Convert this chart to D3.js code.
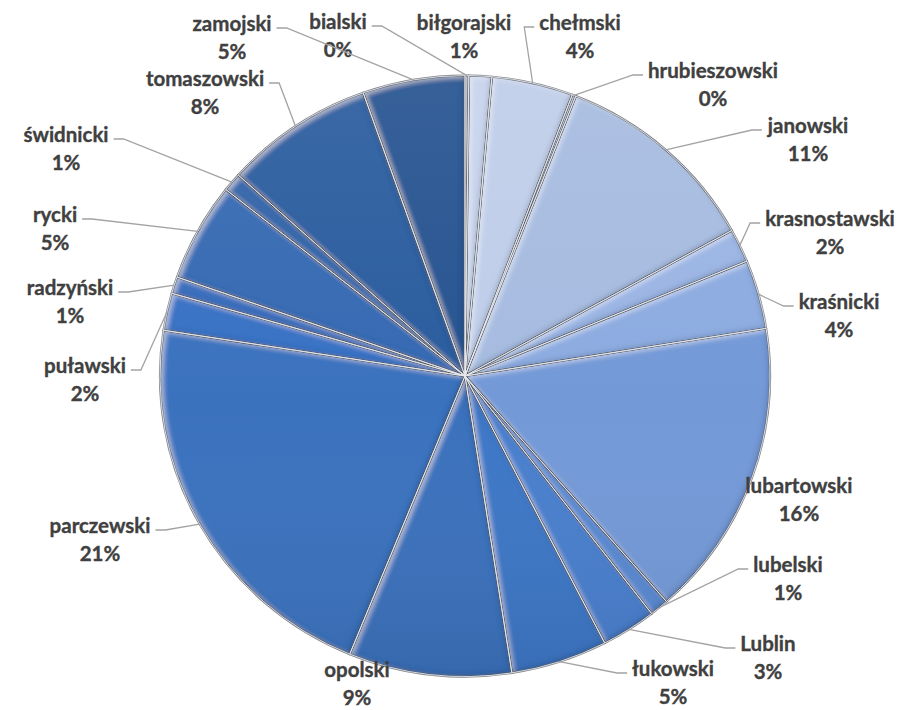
<!DOCTYPE html>
<html>
<head>
<meta charset="utf-8">
<script src="https://cdn.jsdelivr.net/npm/d3@7/dist/d3.min.js"></script>
<style>
  body { margin: 0; background: #fff; }
  .lbl { font-family: Lato, "Noto Sans", sans-serif; font-weight: bold; font-size: 20.5px;
         fill: #404040; stroke: #404040; stroke-width: 0.35px; }
</style>
</head>
<body>
<svg id="chart" width="909" height="710"></svg>
<script>
// powiaty (counties), in the order Excel draws them clockwise from 12 o'clock
const counties = ["bialski", "biłgorajski", "chełmski", "hrubieszowski", "janowski",
  "krasnostawski", "kraśnicki", "lubartowski", "lubelski", "Lublin", "łukowski",
  "opolski", "parczewski", "puławski", "radzyński", "rycki", "świdnicki",
  "tomaszowski", "zamojski"];

// share of each county
const values = [0.2, 1.2, 4.3, 0.2, 11.0, 1.8, 3.7, 16.0, 1.0, 2.9, 5.1,
  8.6, 21.2, 2.0, 0.9, 5.3, 1.0, 7.9, 5.4];

// monochrome blue palette, light to dark
const colors = ["#cbd7ee", "#c6d3ec", "#bfcde9", "#b6c7e7", "#a6bbe0",
  "#9ab4e3", "#8cabe0", "#7399d7", "#5a89d2", "#4a7fcd", "#3d77c6",
  "#3a71bc", "#3b72be", "#3971c4", "#376cbb", "#3469b2", "#3164a8",
  "#2c5c9e", "#285290"];

// label layout: offset of the name baseline from the pie centre, and whether a leader is drawn
const labelOffset = [[-127, -347], [-1, -346], [115, -346], [248, -298], [343, -243],
  [365, -150], [374, -67], [334, 117], [323, 196], [303, 275], [208, 300],
  [-108, 301], [-365, 157], [-380, -3], [-395, -81], [-410, -154], [-399, -234],
  [-260, -290], [-233, -345]];
const hasLeader = [1, 0, 1, 1, 1, 1, 1, 0, 1, 1, 1, 0, 1, 1, 1, 1, 1, 1, 1];

const cx = 465, cy = 376, R = 305, ky = 0.985;

const svg = d3.select("#chart");
const defs = svg.append("defs");

// bevel look: light inner edge top-left, dark inner edge bottom-right
const f = defs.append("filter").attr("id", "bevel")
  .attr("x", "-10%").attr("y", "-10%").attr("width", "120%").attr("height", "120%");
f.append("feGaussianBlur").attr("in", "SourceAlpha").attr("stdDeviation", 2.5).attr("result", "b");
f.append("feOffset").attr("in", "b").attr("dx", 2.5).attr("dy", 2.5).attr("result", "ob1");
f.append("feComposite").attr("in", "SourceAlpha").attr("in2", "ob1").attr("operator", "out").attr("result", "hi");
f.append("feFlood").attr("flood-color", "#ffffff").attr("flood-opacity", 0.45);
f.append("feComposite").attr("in2", "hi").attr("operator", "in").attr("result", "hiC");
f.append("feOffset").attr("in", "b").attr("dx", -2.5).attr("dy", -2.5).attr("result", "ob2");
f.append("feComposite").attr("in", "SourceAlpha").attr("in2", "ob2").attr("operator", "out").attr("result", "sh");
f.append("feFlood").attr("flood-color", "#0a1a33").attr("flood-opacity", 0.35);
f.append("feComposite").attr("in2", "sh").attr("operator", "in").attr("result", "shC");
const m = f.append("feMerge");
m.append("feMergeNode").attr("in", "SourceGraphic");
m.append("feMergeNode").attr("in", "hiC");
m.append("feMergeNode").attr("in", "shC");

// soft top-to-bottom light over the whole pie
const lg = defs.append("linearGradient").attr("id", "shine")
  .attr("x1", 0).attr("y1", 0).attr("x2", 0).attr("y2", 1);
lg.append("stop").attr("offset", "0%").attr("stop-color", "#fff").attr("stop-opacity", 0.08);
lg.append("stop").attr("offset", "55%").attr("stop-color", "#fff").attr("stop-opacity", 0);
lg.append("stop").attr("offset", "100%").attr("stop-color", "#000").attr("stop-opacity", 0.08);

const data = counties.map((c, i) => ({ name: c, value: values[i], color: colors[i] }));
const total = d3.sum(values);
const pct = d3.format(".0%");

const pie = d3.pie().value(d => d.value).sort(null);
const arc = d3.arc().innerRadius(0).outerRadius(R);
const arcs = pie(data);

const g = svg.append("g").attr("transform", `translate(${cx},${cy})`);
const pg = g.append("g").attr("transform", `scale(1,${ky})`);

pg.selectAll(".slice")
  .data(arcs)
  .enter()
  .append("path")
  .attr("class", "slice")
  .attr("d", arc)
  .attr("fill", d => d.data.color)
  .attr("filter", "url(#bevel)");

pg.append("circle").attr("r", R).attr("fill", "url(#shine)");

// slice separators: dark rim with a pale core
pg.selectAll(".sepD")
  .data(arcs)
  .enter()
  .append("path")
  .attr("d", arc)
  .attr("fill", "none")
  .attr("stroke", "#4a4f58")
  .attr("stroke-opacity", 0.7)
  .attr("stroke-width", 2.2)
  .attr("stroke-linejoin", "round");
pg.selectAll(".sepL")
  .data(arcs)
  .enter()
  .append("path")
  .attr("d", arc)
  .attr("fill", "none")
  .attr("stroke", "#e6e8ec")
  .attr("stroke-width", 0.9)
  .attr("stroke-linejoin", "round");

// labels
const lab = g.selectAll(".lab")
  .data(arcs)
  .enter()
  .append("g")
  .attr("class", "lab");

lab.append("text")
  .attr("class", "lbl name")
  .attr("text-anchor", "middle")
  .attr("x", (d, i) => labelOffset[i][0])
  .attr("y", (d, i) => labelOffset[i][1])
  .text(d => d.data.name);

lab.append("text")
  .attr("class", "lbl")
  .attr("text-anchor", "middle")
  .attr("x", (d, i) => labelOffset[i][0])
  .attr("y", (d, i) => labelOffset[i][1] + 28)
  .text(d => pct(d.data.value / total));

// leader lines from the label side to the outer edge of the slice
lab.each(function (d, i) {
  if (!hasLeader[i]) return;
  const box = d3.select(this).select(".name").node().getBBox();
  const a = (d.startAngle + d.endAngle) / 2;
  const px = R * Math.sin(a), py = -R * Math.cos(a) * ky;
  const lx = labelOffset[i][0];
  const ly = labelOffset[i][1] - 3;
  const right = lx > px; // label sits right of the slice point -> attach on its left side
  const sx = right ? box.x - 5 : box.x + box.width + 5;
  const ex = right ? sx - 10 : sx + 10;
  d3.select(this).insert("polyline", ":first-child")
    .attr("points", [[sx, ly], [ex, ly], [px, py]].map(p => p.join(",")).join(" "))
    .attr("fill", "none")
    .attr("stroke", "#a3a3a3")
    .attr("stroke-width", 1.3);
});
</script>
</body>
</html>
